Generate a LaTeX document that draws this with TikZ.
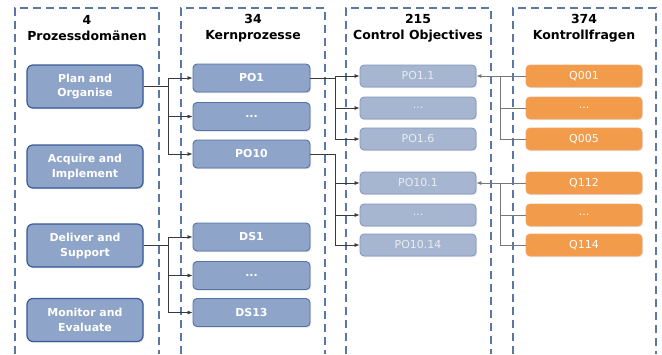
\documentclass[tikz,border=0pt]{standalone}
\usepackage{fontspec}
\setmainfont{DejaVu Sans}
\usetikzlibrary{shadows,arrows.meta}
\definecolor{dashcol}{HTML}{5B77A5}
\definecolor{bluefill}{HTML}{8EA4C8}
\definecolor{bluedraw}{HTML}{3A5A9A}
\definecolor{bluedrawb}{HTML}{5671A6}
\definecolor{lightfill}{HTML}{A7B6D0}
\definecolor{lightdraw}{HTML}{8396BC}
\definecolor{lighttext}{HTML}{E8ECF2}
\definecolor{orfill}{HTML}{F29B4A}
\definecolor{ordraw}{HTML}{F0A566}
\definecolor{conncol}{HTML}{3A3A3A}
\definecolor{conncolb}{HTML}{777777}
\tikzset{
  colframe/.style={draw=dashcol, line width=1.4bp, dash pattern=on 8bp off 5bp},
  header/.style={font=\fontsize{12.5}{16}\selectfont\bfseries, align=center, text=black},
  dombox/.style={draw=bluedraw, line width=1.2bp, fill=bluefill, rounded corners=6bp,
    minimum width=116bp, minimum height=43bp, inner sep=0pt, align=center,
    text=white, font=\fontsize{11}{15}\selectfont\bfseries,
    drop shadow={shadow xshift=1bp, shadow yshift=-1.2bp, opacity=0.25}},
  procbox/.style={draw=bluedrawb, line width=0.9bp, fill=bluefill, rounded corners=4bp,
    minimum width=117bp, minimum height=28bp, inner sep=0pt,
    text=white, font=\fontsize{11}{13}\selectfont\bfseries,
    drop shadow={shadow xshift=1bp, shadow yshift=-1.2bp, opacity=0.25}},
  cobox/.style={draw=lightdraw, line width=0.8bp, fill=lightfill, rounded corners=4bp,
    minimum width=116bp, minimum height=22bp, inner sep=0pt,
    text=lighttext, font=\fontsize{11}{13}\selectfont,
    drop shadow={shadow xshift=1bp, shadow yshift=-1.2bp, opacity=0.2}},
  qbox/.style={draw=ordraw, line width=0.8bp, fill=orfill, rounded corners=4bp,
    minimum width=116bp, minimum height=22bp, inner sep=0pt,
    text=white, font=\fontsize{11}{13}\selectfont,
    drop shadow={shadow xshift=1bp, shadow yshift=-1.2bp, opacity=0.2}},
  arr/.style={draw=conncol, line width=0.7bp, -{Latex[length=5bp,width=4bp]}},
  arrg/.style={draw=conncolb, line width=0.7bp, -{Latex[length=5bp,width=4bp]}},
  lineg/.style={draw=conncolb, line width=0.7bp},
}
\begin{document}
\begin{tikzpicture}[x=1bp,y=-1bp]
\useasboundingbox (0,0) rectangle (662,354);
% column frames
\draw[colframe] (15,354) -- (15,8) -- (159,8) -- (159,354);
\draw[colframe] (181,354) -- (181,8) -- (325,8) -- (325,354);
\draw[colframe] (346,354) -- (346,8) -- (491,8) -- (491,354);
\draw[colframe] (513,354) -- (513,8) -- (656,8) -- (656,354);
% headers
\node[header] (h1) at (87,28) {4\\Prozessdomänen};
\node[header] (h2) at (253,28) {34\\Kernprozesse};
\node[header] (h3) at (418,28) {215\\Control Objectives};
\node[header] (h4) at (584,28) {374\\Kontrollfragen};
% column 1
\node[dombox] (pao) at (85,86.5) {Plan and\\Organise};
\node[dombox] (aai) at (85,166.5) {Acquire and\\Implement};
\node[dombox] (das) at (85,245.5) {Deliver and\\Support};
\node[dombox] (mae) at (85,320) {Monitor and\\Evaluate};
% column 2
\node[procbox] (po1) at (251.5,78) {PO1};
\node[procbox] (pod) at (251.5,116.5) {...};
\node[procbox] (po10) at (251.5,154) {PO10};
\node[procbox] (ds1) at (251.5,237) {DS1};
\node[procbox] (dsd) at (251.5,275.5) {...};
\node[procbox] (ds13) at (251.5,312.5) {DS13};
% column 3
\node[cobox] (po11) at (418,76) {PO1.1};
\node[cobox] (po1d) at (418,108) {...};
\node[cobox] (po16) at (418,139) {PO1.6};
\node[cobox] (po101) at (418,183) {PO10.1};
\node[cobox] (po10d) at (418,215) {...};
\node[cobox] (po1014) at (418,245) {PO10.14};
% column 4
\node[qbox] (q001) at (584,76) {Q001};
\node[qbox] (qd1) at (584,108) {...};
\node[qbox] (q005) at (584,139) {Q005};
\node[qbox] (q112) at (584,183) {Q112};
\node[qbox] (qd2) at (584,215) {...};
\node[qbox] (q114) at (584,245) {Q114};
% connectors col1 -> col2
\draw[arr] (pao.east) -- ++(25,0) |- (po1.west);
\draw[arr] (pao.east) -- ++(25,0) |- (pod.west);
\draw[arr] (pao.east) -- ++(25,0) |- (po10.west);
\draw[arr] (das.east) -- ++(25,0) |- (ds1.west);
\draw[arr] (das.east) -- ++(25,0) |- (dsd.west);
\draw[arr] (das.east) -- ++(25,0) |- (ds13.west);
% connectors col2 -> col3
\draw[arr] (po1.east) -- ++(25,0) |- (po11.west);
\draw[arr] (po1.east) -- ++(25,0) |- (po1d.west);
\draw[arr] (po1.east) -- ++(25,0) |- (po16.west);
\draw[arr] (po10.east) -- ++(25,0) |- (po101.west);
\draw[arr] (po10.east) -- ++(25,0) |- (po10d.west);
\draw[arr] (po10.east) -- ++(25,0) |- (po1014.west);
% connectors col4 -> col3
\draw[arrg] (q001.west) -- (po11.east);
\draw[lineg] (qd1.west) -- ++(-25,0) |- (q001.west);
\draw[lineg] (q005.west) -- ++(-25,0) |- (q001.west);
\draw[arrg] (q112.west) -- (po101.east);
\draw[lineg] (qd2.west) -- ++(-25,0) |- (q112.west);
\draw[lineg] (q114.west) -- ++(-25,0) |- (q112.west);
\end{tikzpicture}
\end{document}
